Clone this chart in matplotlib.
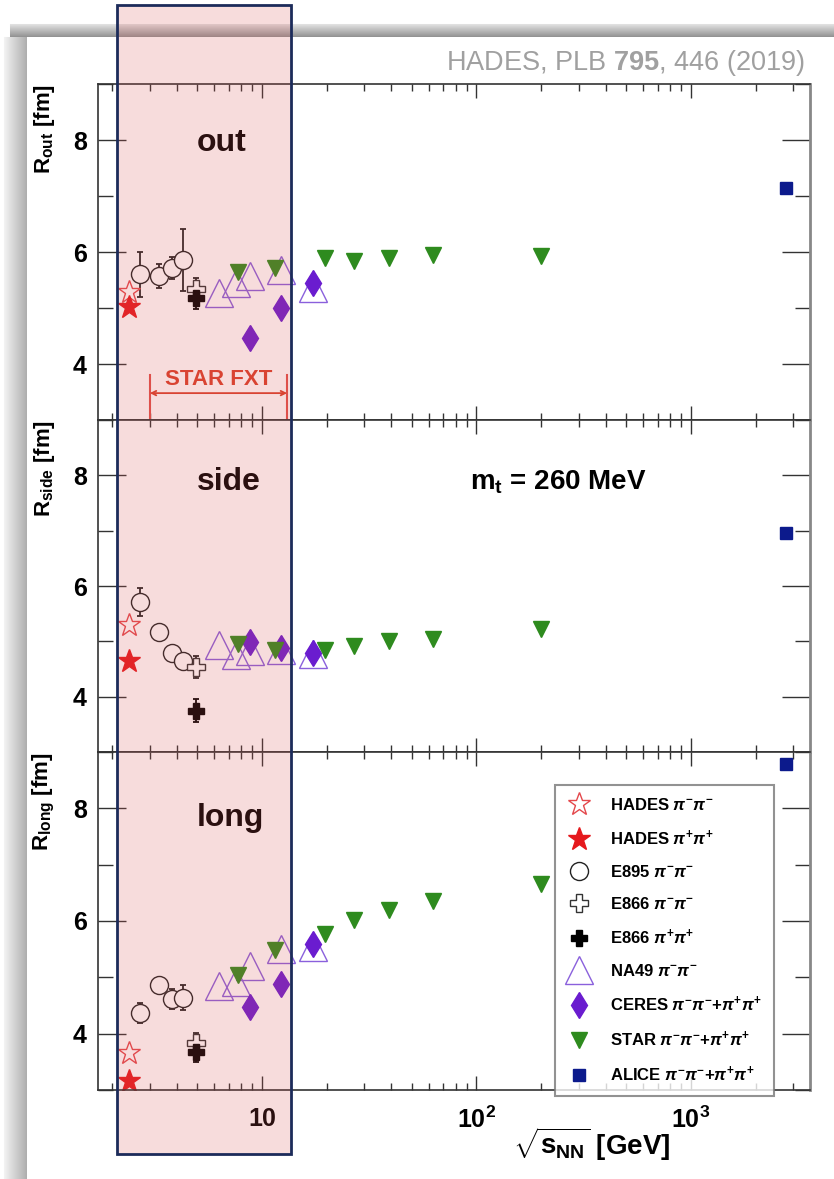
import numpy as np
import matplotlib
matplotlib.use("Agg")
import matplotlib.pyplot as plt
import matplotlib.transforms as mtransforms
from matplotlib.patches import Rectangle
from matplotlib.ticker import MultipleLocator, FixedLocator, FixedFormatter, LogLocator, NullFormatter

plt.rcParams['font.family'] = ['Liberation Sans', 'DejaVu Sans']
plt.rcParams['font.weight'] = 'bold'
plt.rcParams['mathtext.fontset'] = 'custom'
plt.rcParams['mathtext.rm'] = 'Liberation Sans'
plt.rcParams['mathtext.bf'] = 'Liberation Sans:bold'
plt.rcParams['mathtext.it'] = 'Liberation Sans:italic'

# ---------------------------------------------------------------
# energies sqrt(s_NN) [GeV]
# ---------------------------------------------------------------
hades_e = [2.4]
e895_e = [2.7, 3.3, 3.8, 4.3]
e866_e = [4.9]
na49_e = [6.3, 7.6, 8.8, 12.3, 17.3]
ceres_e = [8.8, 12.3, 17.3]
star_e = [7.7, 11.5, 19.6, 27.0, 39.0, 62.4, 200.0]
alice_e = [2760.0]

# R_out [fm]
out_hades_mm = [5.29]
out_hades_pp = [5.02]
out_e895 = [5.60, 5.57, 5.71, 5.86]
out_e895_err = [0.40, 0.22, 0.20, 0.55]
out_e866_mm = [5.34]
out_e866_pp = [5.18]
out_e866_err = [0.20]
out_na49 = [5.27, 5.45, 5.57, 5.68, 5.35]
out_ceres = [4.46, 5.00, 5.45]
out_star = [5.64, 5.71, 5.89, 5.84, 5.89, 5.95, 5.93]
out_alice = [7.14]

# R_side [fm]
side_hades_mm = [5.29]
side_hades_pp = [4.64]
side_e895 = [5.71, 5.16, 4.79, 4.64]
side_e895_err = [0.25, 0.05, 0.05, 0.10]
side_e866_mm = [4.54]
side_e866_pp = [3.75]
side_e866_err = [0.20]
side_na49 = [4.93, 4.75, 4.82, 4.84, 4.78]
side_ceres = [4.98, 4.88, 4.79]
side_star = [4.96, 4.84, 4.84, 4.91, 5.00, 5.05, 5.23]
side_alice = [6.96]

# R_long [fm]
long_hades_mm = [3.66]
long_hades_pp = [3.16]
long_e895 = [4.37, 4.86, 4.61, 4.64]
long_e895_err = [0.18, 0.05, 0.18, 0.22]
long_e866_mm = [3.84]
long_e866_pp = [3.68]
long_e866_err = [0.18]
long_na49 = [4.84, 4.91, 5.21, 5.50, 5.54]
long_ceres = [4.48, 4.88, 5.60]
long_star = [5.05, 5.48, 5.77, 6.02, 6.20, 6.36, 6.66]
long_alice = [8.79]

panels = [
    ("out", r"$\mathbf{R_{out}}$ [fm]", out_hades_mm, out_hades_pp, out_e895, out_e895_err,
     out_e866_mm, out_e866_pp, out_e866_err, out_na49, out_ceres, out_star, out_alice),
    ("side", r"$\mathbf{R_{side}}$ [fm]", side_hades_mm, side_hades_pp, side_e895, side_e895_err,
     side_e866_mm, side_e866_pp, side_e866_err, side_na49, side_ceres, side_star, side_alice),
    ("long", r"$\mathbf{R_{long}}$ [fm]", long_hades_mm, long_hades_pp, long_e895, long_e895_err,
     long_e866_mm, long_e866_pp, long_e866_err, long_na49, long_ceres, long_star, long_alice),
]

legend_labels = [r"HADES $\pi^{-}\pi^{-}$", r"HADES $\pi^{+}\pi^{+}$", r"E895 $\pi^{-}\pi^{-}$",
                 r"E866 $\pi^{-}\pi^{-}$", r"E866 $\pi^{+}\pi^{+}$", r"NA49 $\pi^{-}\pi^{-}$",
                 r"CERES $\pi^{-}\pi^{-}$+$\pi^{+}\pi^{+}$", r"STAR $\pi^{-}\pi^{-}$+$\pi^{+}\pi^{+}$",
                 r"ALICE $\pi^{-}\pi^{-}$+$\pi^{+}\pi^{+}$"]

star_fxt = (3.0, 13.1)   # STAR fixed target range
box_range = (2.1, 13.6)  # highlighted energy range

c_red = '#e5191d'
c_purple = '#6a1ccf'
c_na49 = '#8a60dc'
c_green = '#2e8b1e'
c_navy = '#0c1a8c'

# ---------------------------------------------------------------
fig = plt.figure(figsize=(8.34, 11.79), dpi=100)

# slide-like background with a grey shadow at top and left
bg = fig.add_axes([0, 0, 1, 1], zorder=-10)
H, W = 1179, 834
img = np.ones((H, W, 3))
for i, r in enumerate(range(24, 37)):
    img[r, 10:, :] = 0.88 - 0.025 * i
for i, c in enumerate(range(4, 27)):
    img[37:, c, :] = 0.95 - 0.012 * i
bg.imshow(img, aspect='auto', extent=[0, 1, 0, 1])
bg.set_axis_off()

left, width = 98 / W, 712 / W
tops = [84, 420, 752]
bottoms = [420, 752, 1090]
axes = []
for i, (name, ylab, h_mm, h_pp, e895, e895_err, e866_mm, e866_pp, e866_err,
        na49, ceres, star, alice) in enumerate(panels):
    ax = fig.add_axes([left, 1 - bottoms[i] / H, width, (bottoms[i] - tops[i]) / H])
    axes.append(ax)

    ax.errorbar(e895_e, e895, yerr=e895_err, fmt='none', ecolor='#222222', elinewidth=1.3,
                capsize=2.5, capthick=1.3, zorder=2)
    ax.errorbar(e866_e, e866_mm, yerr=e866_err, fmt='none', ecolor='#222222', elinewidth=1.3,
                capsize=2.5, capthick=1.3, zorder=2)
    ax.errorbar(e866_e, e866_pp, yerr=e866_err, fmt='none', ecolor='black', elinewidth=1.3,
                capsize=2.5, capthick=1.3, zorder=2)

    handles = []
    handles += ax.plot(hades_e, h_mm, ls='none', marker='*', ms=17, mfc='none', mec='#e4484c', mew=1.0)
    handles += ax.plot(hades_e, h_pp, ls='none', marker='*', ms=17, mfc=c_red, mec=c_red)
    handles += ax.plot(e895_e, e895, ls='none', marker='o', ms=13, mfc='white', mec='#222222', mew=1.0)
    handles += ax.plot(e866_e, e866_mm, ls='none', marker='P', ms=13, mfc='white', mec='#333333', mew=1.0)
    handles += ax.plot(e866_e, e866_pp, ls='none', marker='P', ms=12, mfc='black', mec='black')
    handles += ax.plot(na49_e, na49, ls='none', marker='^', ms=19.5, mfc='none', mec=c_na49, mew=1.0)
    handles += ax.plot(ceres_e, ceres, ls='none', marker='d', ms=13, mfc=c_purple, mec=c_purple)
    handles += ax.plot(star_e, star, ls='none', marker='v', ms=11, mfc=c_green, mec=c_green)
    handles += ax.plot(alice_e, alice, ls='none', marker='s', ms=9, mfc=c_navy, mec=c_navy)

    ax.set_xscale('log')
    ax.set_xlim(1.72, 3590)
    ax.set_ylim(3, 9)
    ax.yaxis.set_major_locator(MultipleLocator(2))
    ax.yaxis.set_minor_locator(MultipleLocator(1))
    ax.xaxis.set_major_locator(FixedLocator([10, 100, 1000]))
    ax.xaxis.set_minor_locator(LogLocator(base=10, subs=np.arange(2, 10), numticks=20))
    ax.xaxis.set_minor_formatter(NullFormatter())
    ax.tick_params(which='both', direction='in', top=True, right=True, width=1, colors='#333333',
                   labelcolor='black')
    ax.tick_params(axis='y', which='major', length=20, labelsize=18, pad=8)
    ax.tick_params(axis='y', which='minor', length=11)
    ax.tick_params(axis='x', which='major', length=10, labelsize=18, pad=12)
    ax.tick_params(axis='x', which='minor', length=5)
    for s in ax.spines.values():
        s.set_color('#333333')
        s.set_linewidth(1.2)
    ax.spines['right'].set_color('#888888')
    ax.spines['right'].set_linewidth(2)

    if i < 2:
        ax.xaxis.set_major_formatter(NullFormatter())
    else:
        ax.xaxis.set_major_formatter(FixedFormatter(['10', r'$\mathbf{10^{2}}$', r'$\mathbf{10^{3}}$']))

    ax.set_ylabel(ylab, loc='top', fontsize=16, fontweight='bold')
    ax.yaxis.set_label_coords(-0.058, 1.0)
    ax.text(0.139, [0.824, 0.813, 0.805][i], name, transform=ax.transAxes, ha='left', va='center',
            fontsize=23, fontweight='bold')

ax1, ax2, ax3 = axes

# STAR FXT range
trans = mtransforms.blended_transform_factory(ax1.transData, ax1.transAxes)
ax1.annotate('', xy=(star_fxt[0], 0.080), xytext=(star_fxt[1], 0.080), xycoords=trans, textcoords=trans,
             arrowprops=dict(arrowstyle='<->', color='#d9402a', lw=1.3, shrinkA=0, shrinkB=0,
                             mutation_scale=8))
for xv in star_fxt:
    ax1.plot([xv, xv], [0.0, 0.134], color='#e0504a', lw=1.5, transform=trans, clip_on=False)
ax1.text(0.170, 0.122, 'STAR FXT', transform=ax1.transAxes, ha='center', va='center',
         fontsize=16, fontweight='bold', color='#d9402a')

ax2.text(0.646, 0.813, r'$\mathbf{m_{t}}$ = 260 MeV', transform=ax2.transAxes, ha='center',
         va='center', fontsize=20, fontweight='bold')

ax3.set_xlabel(r'$\sqrt{\mathbf{s_{NN}}}$ [GeV]', fontsize=20, fontweight='bold')
ax3.xaxis.set_label_coords(0.694, -0.105)

leg = ax3.legend(handles, legend_labels, loc='upper left', bbox_to_anchor=(0.642, 0.902),
                 prop={'size': 12, 'weight': 'bold'}, frameon=True, fancybox=False,
                 edgecolor='#777777', labelspacing=0.95, handlelength=1.5, handletextpad=1.1,
                 borderpad=0.7, borderaxespad=0, numpoints=1)
leg.get_frame().set_linewidth(1.5)

fig.text(0.965, 0.9466, r'HADES, PLB $\mathbf{795}$, 446 (2019)', ha='right', va='center',
         fontsize=19.5, fontweight='normal', color='#a0a0a0')

# highlighted region box (overlay)
tbox = mtransforms.blended_transform_factory(ax3.transData, fig.transFigure)
rect = Rectangle((box_range[0], 1 - 1154 / H), box_range[1] - box_range[0], (1154 - 5) / H,
                 transform=tbox, facecolor=(0.85, 0.33, 0.33, 0.2), edgecolor='#1c2b5a',
                 linewidth=2, zorder=20)
fig.add_artist(rect)

fig.savefig('out.png', dpi=100)
